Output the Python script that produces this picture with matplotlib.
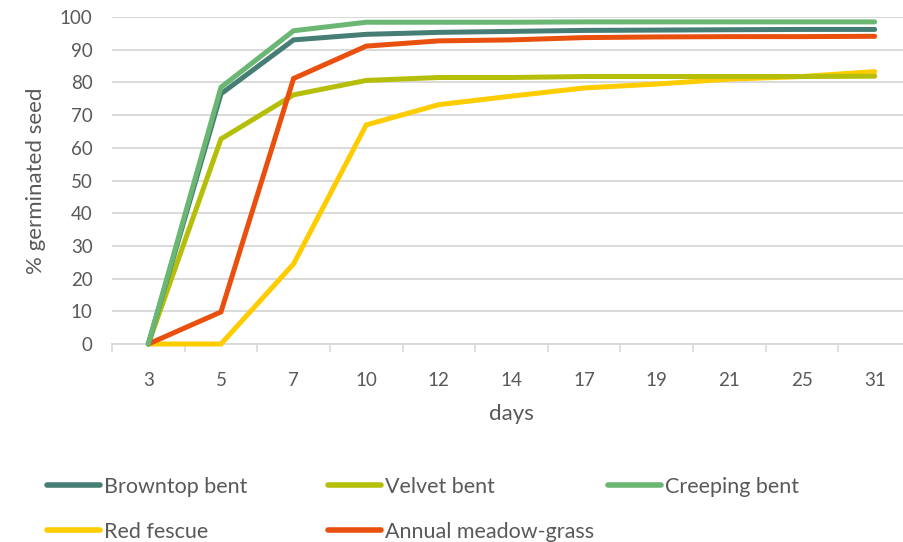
import numpy as np
import matplotlib
matplotlib.use("Agg")
from matplotlib import pyplot as plt
from matplotlib.lines import Line2D

plt.rcParams['font.family'] = ['Lato', 'DejaVu Sans']

# days after sowing (categorical axis)
days = ['3', '5', '7', '10', '12', '14', '17', '19', '21', '25', '31']

# % germinated seed per species
browntop = [0, 76.5, 93, 94.7, 95.3, 95.6, 95.9, 96, 96.1, 96.2, 96.2]
velvet = [0, 62.7, 76.2, 80.6, 81.5, 81.5, 81.8, 81.8, 81.8, 81.8, 81.9]
creeping = [0, 78.5, 95.8, 98.4, 98.4, 98.4, 98.5, 98.5, 98.5, 98.5, 98.5]
red_fescue = [0, 0, 24.5, 67, 73.2, 75.8, 78.3, 79.5, 81, 81.8, 83.3]
annual = [0, 9.8, 81.2, 91.1, 92.7, 93, 93.7, 93.9, 94, 94, 94.1]

names = ['Browntop bent', 'Velvet bent', 'Creeping bent', 'Red fescue', 'Annual meadow-grass']
series = [browntop, velvet, creeping, red_fescue, annual]
colors = ['#467D74', '#B5BF0A', '#6AB673', '#FFCC00', '#E9500E']
# draw order: later series end up on top
order = [3, 1, 4, 0, 2]

txt = '#595959'
grid = '#D9D9D9'

fig = plt.figure(figsize=(9.04, 5.42), dpi=100)
ax = fig.add_axes([112 / 904, 198 / 542, 799 / 904, 327 / 542])

x = np.arange(len(days))
for i in order:
    ax.plot(x, series[i], color=colors[i], lw=3.6, solid_capstyle='round',
            solid_joinstyle='miter', clip_on=False, zorder=3 + order.index(i))

ax.set_xlim(-0.5, len(days) - 0.5)
ax.set_ylim(0, 100)
ax.set_yticks(np.arange(0, 101, 10))
ax.set_xticks(x)
ax.set_xticklabels(days)
ax.set_xticks(np.arange(-0.5, len(days), 1), minor=True)
ax.tick_params(axis='x', which='major', length=0, pad=20, labelsize=13.5, labelcolor=txt)
ax.tick_params(axis='x', which='minor', length=6, width=1.2, color=grid, direction='out')
ax.tick_params(axis='y', length=0, pad=14, labelsize=13.5, labelcolor=txt)

ax.grid(axis='y', color=grid, lw=1.4)
ax.set_axisbelow(True)
for s in ['top', 'right', 'left']:
    ax.spines[s].set_visible(False)
ax.spines['bottom'].set_color(grid)
ax.spines['bottom'].set_linewidth(1.4)
ax.spines['bottom'].set_zorder(1)

ax.set_xlabel('days', fontsize=16, color=txt, labelpad=11)
ax.set_ylabel('% germinated seed', fontsize=16, color=txt, labelpad=10)

# legend: three columns, two rows
cols = [([0, 3], 47 / 904), ([1, 4], 328 / 904), ([2], 608 / 904)]
for idx, xpos in cols:
    hs = [Line2D([], [], color=colors[i], lw=4, solid_capstyle='round') for i in idx]
    fig.legend(hs, [names[i] for i in idx], loc='upper left',
               bbox_to_anchor=(xpos, 1 - 477 / 542), frameon=False,
               fontsize=15.5, labelcolor=txt, handlelength=2.45, handletextpad=0.2,
               labelspacing=1.15, borderpad=0, borderaxespad=0)

fig.savefig('out.png', dpi=100)
